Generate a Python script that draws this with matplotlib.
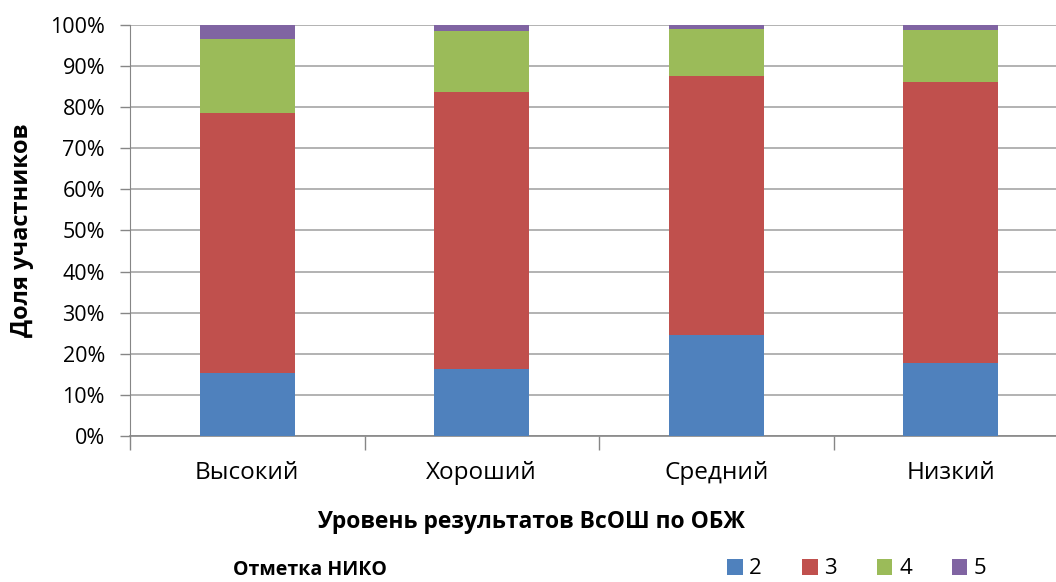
import matplotlib.pyplot as plt
import numpy as np

# Данные: доли участников по отметкам НИКО (в процентах)
categories = ["Высокий", "Хороший", "Средний", "Низкий"]
marks = ["2", "3", "4", "5"]
share_2 = [15.3, 16.2, 24.6, 17.8]
share_3 = [63.3, 67.6, 63.1, 68.4]
share_4 = [18.0, 14.7, 11.3, 12.7]
share_5 = [3.4, 1.5, 1.0, 1.1]
colors = ["#4f81bd", "#c0504d", "#9bbb59", "#8064a2"]

def main():
    plt.rcParams['font.family'] = ['Open Sans', 'DejaVu Sans']
    fig = plt.figure(figsize=(10.56, 5.82), dpi=100)
    # ось выходит за правый край, как в оригинале
    ax = fig.add_axes([130 / 1056, 1 - 436 / 582, 938 / 1056, 411 / 582])

    x = np.arange(len(categories))
    bottom = np.zeros(len(categories))
    handles = []
    for vals, col, lab in zip([share_2, share_3, share_4, share_5], colors, marks):
        b = ax.bar(x, vals, width=0.405, bottom=bottom, color=col, label=lab, zorder=3)
        handles.append(b)
        bottom += np.array(vals)

    ax.set_xlim(-0.5, 3.5)
    ax.set_ylim(0, 100)
    ax.set_yticks(range(0, 101, 10))
    ax.set_yticklabels([f"{v}%" for v in range(0, 101, 10)], fontsize=15.5)
    ax.set_xticks(x)
    ax.set_xticklabels(categories, fontsize=17.5)
    ax.tick_params(axis='x', length=0, pad=18)
    # деления между категориями
    ax.set_xticks(np.arange(-0.5, 4, 1), minor=True)
    ax.tick_params(axis='x', which='minor', length=10, color='#868686', width=1)
    ax.tick_params(axis='y', length=7, color='#868686', width=1, pad=11)

    ax.grid(axis='y', color='#a6a6a6', linewidth=1.2, zorder=0)
    for s in ['top', 'right']:
        ax.spines[s].set_visible(False)
    ax.spines['left'].set_color('#868686')
    ax.spines['bottom'].set_color('#868686')
    ax.spines['bottom'].set_linewidth(1.2)

    fig.text(22 / 1056, 1 - 230 / 582, "Доля участников", rotation=90,
             fontsize=17, fontweight='bold', ha='center', va='center')
    fig.text(531 / 1056, 1 - 522 / 582, "Уровень результатов ВсОШ по ОБЖ",
             fontsize=16.5, fontweight='bold', ha='center', va='center')
    fig.text(233 / 1056, 1 - 570 / 582, "Отметка НИКО",
             fontsize=14, fontweight='bold', ha='left', va='center')

    fig.legend(handles=handles, labels=marks, loc='center left',
               bbox_to_anchor=(727 / 1056, 1 - 569 / 582), ncol=4, frameon=False,
               fontsize=16, handlelength=0.7, handleheight=0.7, handletextpad=0.3,
               columnspacing=1.8, borderaxespad=0, borderpad=0)

    plt.savefig("out.png", dpi=100)
    plt.close()

if __name__ == "__main__":
    main()
